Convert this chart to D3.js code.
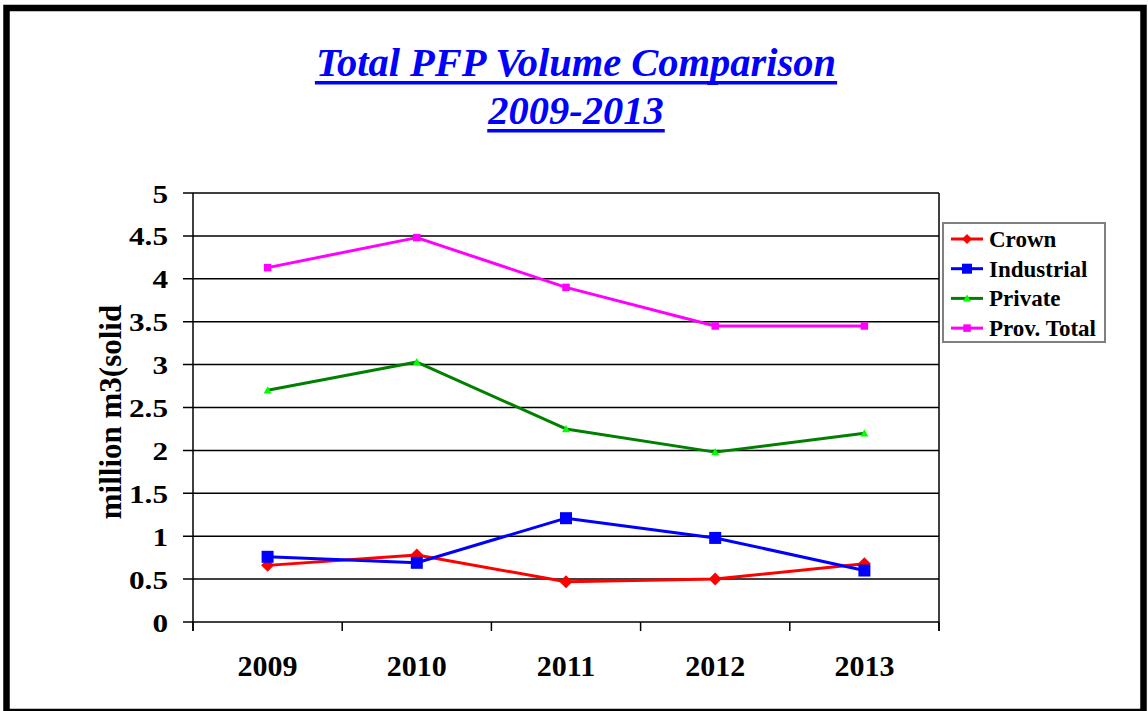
<!DOCTYPE html>
<html>
  <head>
    <meta charset="utf-8" />
    <script src="https://d3js.org/d3.v7.min.js"></script>
    <style>
      body { margin: 0; background: #ffffff; }
      text { font-family: "Liberation Serif", "Times New Roman", serif; font-weight: bold; }
      .grid { stroke: #000000; stroke-width: 1.5; }
      .series { fill: none; stroke-width: 3; stroke-linejoin: round; }
    </style>
  </head>
  <body>
    <div id="chart"></div>
    <script type="text/javascript">

      var w = 1148, h = 711;

      var years = ["2009", "2010", "2011", "2012", "2013"];
      var crown = [0.66, 0.78, 0.47, 0.50, 0.68];
      var industrial = [0.76, 0.69, 1.21, 0.98, 0.60];
      var priv = [2.70, 3.03, 2.25, 1.98, 2.20];
      var provTotal = [4.13, 4.48, 3.90, 3.45, 3.45];
      var yTicks = [0, 0.5, 1, 1.5, 2, 2.5, 3, 3.5, 4, 4.5, 5];
      var seriesNames = ["Crown", "Industrial", "Private", "Prov. Total"];

      var series = [
        { name: seriesNames[0], values: crown, line: "#FF0000", fill: "#FF0000", shape: "diamond", size: 13 },
        { name: seriesNames[1], values: industrial, line: "#0000FF", fill: "#0000FF", shape: "square", size: 12 },
        { name: seriesNames[2], values: priv, line: "#008000", fill: "#00FF00", shape: "triangle", size: 8 },
        { name: seriesNames[3], values: provTotal, line: "#FF00FF", fill: "#FF00FF", shape: "square", size: 7.5 }
      ];

      var svg = d3.select("#chart").append("svg")
        .attr("width", w).attr("height", h);

      svg.append("rect").attr("width", w).attr("height", h).attr("fill", "#ffffff");

      // outer frame
      svg.append("rect").attr("x", 6.5).attr("y", 8).attr("width", 1137).attr("height", 704)
        .attr("fill", "none").attr("stroke", "#000000").attr("stroke-width", 6.5);

      // title
      var title = svg.append("g").attr("fill", "#0000FF");
      [["Total PFP Volume Comparison", 76], ["2009-2013", 124]].forEach(function(t) {
        var tx = title.append("text").attr("x", 576).attr("y", t[1])
          .attr("text-anchor", "middle").attr("font-size", 40.5)
          .attr("font-style", "italic").text(t[0]);
        var len = tx.node().getComputedTextLength();
        title.append("rect").attr("x", 576 - len / 2 - 1).attr("y", t[1] + 5)
          .attr("width", len + 2).attr("height", 3.5);
      });

      var x = d3.scaleBand().domain(years).range([193, 939]);
      var y = d3.scaleLinear().domain([0, 5]).range([622, 193]);

      // gridlines + y ticks
      svg.selectAll("line.grid").data(yTicks).enter().append("line")
        .attr("class", "grid")
        .attr("x1", 183).attr("x2", 939)
        .attr("y1", function(d) { return y(d); }).attr("y2", function(d) { return y(d); });

      // left axis and right border
      svg.selectAll("line.vert").data([193, 939]).enter().append("line")
        .attr("class", "grid")
        .attr("x1", function(d) { return d; }).attr("x2", function(d) { return d; })
        .attr("y1", 193).attr("y2", 631);

      // x ticks at category boundaries
      var bounds = years.map(function(d) { return x(d); }).concat([x.range()[1]]);
      svg.selectAll("line.xtick").data(bounds).enter().append("line")
        .attr("class", "grid")
        .attr("x1", function(d) { return d; }).attr("x2", function(d) { return d; })
        .attr("y1", 622).attr("y2", 631);

      // y tick labels (stretched horizontally like the original)
      svg.selectAll("text.ylab").data(yTicks).enter().append("text")
        .attr("class", "ylab")
        .attr("text-anchor", "end").attr("font-size", 25)
        .attr("transform", function(d) { return "translate(168," + (y(d) + 9.5) + ") scale(1.25,1)"; })
        .text(function(d) { return d; });

      // x labels
      svg.selectAll("text.xlab").data(years).enter().append("text")
        .attr("class", "xlab")
        .attr("x", function(d) { return x(d) + x.bandwidth() / 2; })
        .attr("y", 676).attr("text-anchor", "middle").attr("font-size", 30)
        .text(function(d) { return d; });

      // y axis title
      svg.append("text")
        .attr("transform", "translate(121,412) rotate(-90)")
        .attr("text-anchor", "middle").attr("font-size", 31)
        .text("million m3(solid");

      function marker(sel, s) {
        var r = s.size / 2;
        if (s.shape === "diamond") {
          sel.append("path").attr("d", "M0," + (-r) + "L" + r + ",0L0," + r + "L" + (-r) + ",0Z");
        } else if (s.shape === "square") {
          sel.append("rect").attr("x", -r).attr("y", -r).attr("width", s.size).attr("height", s.size);
        } else {
          sel.append("path").attr("d", "M0," + (-r) + "L" + r + "," + (r * 0.8) + "L" + (-r) + "," + (r * 0.8) + "Z");
        }
      }

      var line = d3.line()
        .x(function(d, i) { return x(years[i]) + x.bandwidth() / 2; })
        .y(function(d) { return y(d); });

      series.forEach(function(s) {
        var g = svg.append("g");
        g.append("path").attr("class", "series").attr("stroke", s.line).attr("d", line(s.values));
        s.values.forEach(function(v, i) {
          var m = g.append("g").attr("fill", s.fill)
            .attr("transform", "translate(" + (x(years[i]) + x.bandwidth() / 2) + "," + y(v) + ")");
          marker(m, s);
        });
      });

      // legend
      var legend = svg.append("g");
      legend.append("rect").attr("x", 943).attr("y", 223).attr("width", 162).attr("height", 119)
        .attr("fill", "#ffffff").attr("stroke", "#808080").attr("stroke-width", 2);
      series.forEach(function(s, i) {
        var ly = 239 + i * 29.7;
        var row = legend.append("g").attr("transform", "translate(0," + ly + ")");
        row.append("line").attr("x1", 951).attr("x2", 983).attr("y1", 0).attr("y2", 0)
          .attr("stroke", s.line).attr("stroke-width", 3);
        var m = row.append("g").attr("fill", s.fill).attr("transform", "translate(967,0)");
        marker(m, { shape: s.shape, size: Math.min(s.size, 10) });
        row.append("text").attr("x", 989).attr("y", 8).attr("font-size", 23).text(s.name);
      });

    </script>
  </body>
</html>
